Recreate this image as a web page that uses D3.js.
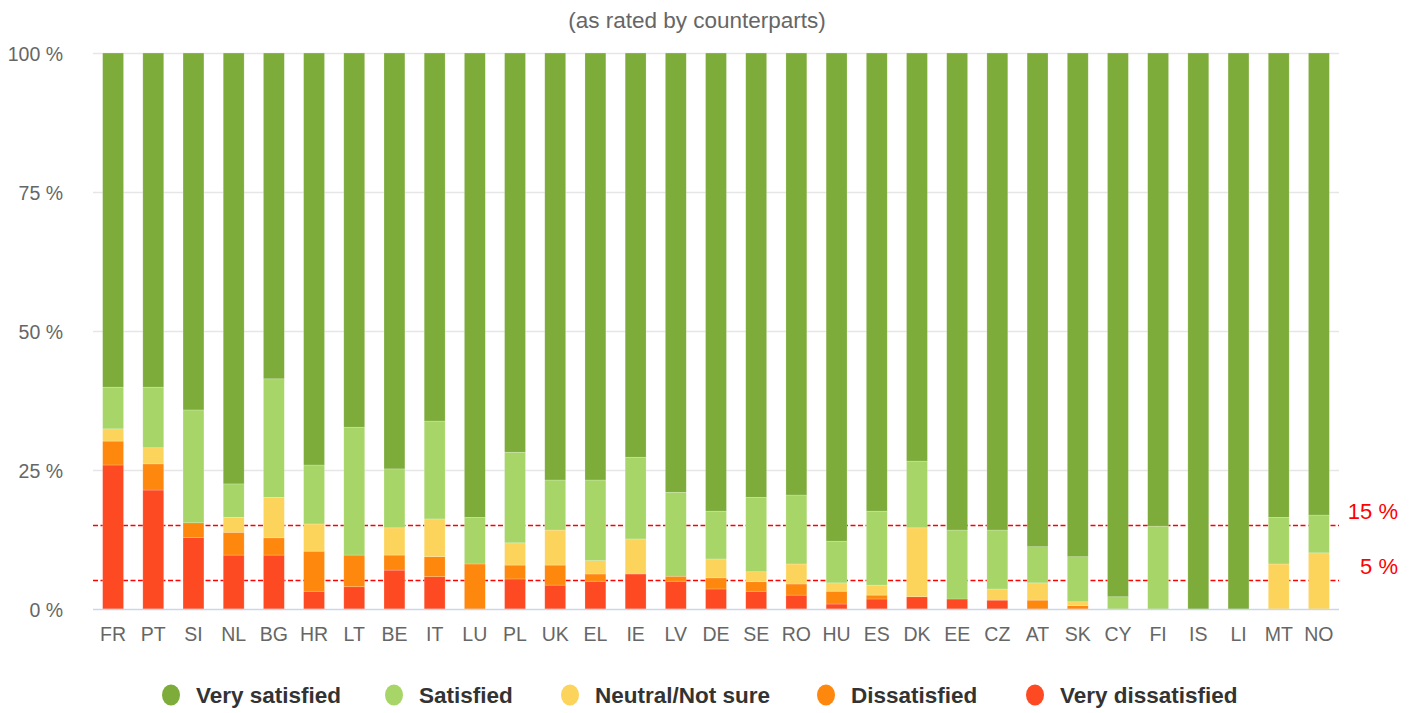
<!DOCTYPE html>
<html>
<head>
<meta charset="utf-8">
<script src="https://cdn.jsdelivr.net/npm/d3@7"></script>
<style>
  body { margin: 0; background: #fff; }
  text { font-family: "Liberation Sans", Arial, sans-serif; }
</style>
</head>
<body>
<div id="chart"></div>
<script>
// countries, in the order shown
var categories = ["FR","PT","SI","NL","BG","HR","LT","BE","IT","LU","PL","UK","EL","IE","LV","DE","SE","RO","HU","ES","DK","EE","CZ","AT","SK","CY","FI","IS","LI","MT","NO"];

// shares in %
var veryDissatisfied = [25.9,21.4,12.9,9.7,9.7,3.2,4.0,7.0,5.8,0,5.4,4.3,5.0,6.3,5.0,3.6,3.2,2.5,0.9,1.8,2.2,1.8,1.6,0,0,0,0,0,0,0,0];
var dissatisfied     = [4.3,4.7,2.6,4.1,3.1,7.2,5.7,2.7,3.6,8.1,2.5,3.6,1.3,0,0.9,2.0,1.7,2.0,2.3,0.7,0,0,0,1.6,0.6,0,0,0,0,0,0];
var neutral          = [2.2,2.9,0,2.7,7.3,4.9,0,4.9,6.8,0,4.0,6.3,2.4,6.3,0,3.4,1.8,3.6,1.5,1.8,12.4,0,2.0,3.1,0.7,0,0,0,0,8.1,10.1];
var satisfied        = [7.5,10.9,20.3,6.0,21.3,10.6,23.0,10.6,17.6,8.4,16.3,9.0,14.5,14.7,15.1,8.6,13.4,12.4,7.5,13.3,12.0,12.4,10.6,6.5,8.1,2.2,14.9,0,0,8.4,6.8];
var verySatisfied    = [60.1,60.1,64.2,77.5,58.6,74.1,67.3,74.8,66.2,83.5,71.8,76.8,76.8,72.7,79.0,82.4,79.9,79.5,87.8,82.4,73.4,85.8,85.8,88.8,90.6,97.8,85.1,100,100,83.5,83.1];

var yTicks = [0, 25, 50, 75, 100];
var refLines = [15, 5];

var series = [
  {key: "vd", name: "Very dissatisfied", color: "#fe4a23", values: veryDissatisfied},
  {key: "d",  name: "Dissatisfied",      color: "#fe870e", values: dissatisfied},
  {key: "n",  name: "Neutral/Not sure",  color: "#fcd45c", values: neutral},
  {key: "s",  name: "Satisfied",         color: "#a7d567", values: satisfied},
  {key: "vs", name: "Very satisfied",    color: "#7dac3a", values: verySatisfied}
];

var w = 1418, h = 713;
var plotLeft = 93, plotRight = 1339, plotTop = 53, plotBottom = 609;

var svg = d3.select("#chart").append("svg").attr("width", w).attr("height", h);

var x = d3.scaleBand().domain(categories).range([plotLeft, plotRight]).paddingInner(0.48).paddingOuter(0.24);
var y = d3.scaleLinear().domain([0, 100]).range([plotBottom, plotTop]);

// title
svg.append("text").attr("x", 697).attr("y", 28).attr("text-anchor", "middle")
  .attr("fill", "#666").style("font-size", "22.5px").text("(as rated by counterparts)");

// grid
svg.append("g").selectAll("line").data(yTicks.filter(function(d){ return d > 0; })).enter().append("line")
  .attr("x1", plotLeft).attr("x2", plotRight).attr("y1", function(d){ return y(d) + 0.5; }).attr("y2", function(d){ return y(d) + 0.5; })
  .attr("stroke", "#e6e6e6").attr("stroke-width", 1.5);

// y axis
var yAxis = svg.append("g").attr("transform", "translate(" + (plotLeft - 30) + ",0)")
  .call(d3.axisLeft(y).tickValues(yTicks).tickSize(0).tickPadding(0).tickFormat(function(d){ return d + " %"; }));
yAxis.select(".domain").remove();
yAxis.selectAll("text").attr("fill", "#666").style("font-size", "19.5px").attr("dy", "0.38em").attr("font-family", null);

// reference lines (behind the bars)
svg.append("g").selectAll("line").data(refLines).enter().append("line")
  .attr("x1", plotLeft).attr("x2", plotRight)
  .attr("y1", function(d){ return Math.round(y(d)) - 0.5; }).attr("y2", function(d){ return Math.round(y(d)) - 0.5; })
  .attr("stroke", "#ff0000").attr("stroke-width", 1.5).attr("stroke-dasharray", "5,2.5");
svg.append("g").selectAll("text").data(refLines).enter().append("text")
  .attr("x", 1398).attr("y", function(d){ return Math.round(y(d)) - 7; }).attr("text-anchor", "end")
  .attr("fill", "#ff0000").style("font-size", "22px").text(function(d){ return d + " %"; });

// stacked bars
var rows = categories.map(function(c, i) {
  var r = {cat: c};
  series.forEach(function(s){ r[s.key] = s.values[i]; });
  return r;
});
var stack = d3.stack().keys(series.map(function(s){ return s.key; }))(rows);

svg.append("g").selectAll("g").data(stack).enter().append("g")
  .attr("fill", function(d, i){ return series[i].color; })
  .selectAll("rect").data(function(d){ return d; }).enter().append("rect")
  .attr("x", function(d){ return x(d.data.cat); })
  .attr("width", x.bandwidth())
  .attr("y", function(d){ return y(d[1]); })
  .attr("height", function(d){ return y(d[0]) - y(d[1]); })
  .attr("stroke", "#fff").attr("stroke-opacity", 0.35).attr("stroke-width", 0.6);

// baseline
svg.append("line").attr("x1", plotLeft).attr("x2", plotRight).attr("y1", plotBottom + 0.5).attr("y2", plotBottom + 0.5)
  .attr("stroke", "#ccd6eb").attr("stroke-width", 1.5);

// x axis
var xAxis = svg.append("g").attr("transform", "translate(0," + (plotBottom + 18) + ")")
  .call(d3.axisBottom(x).tickSize(0).tickPadding(0));
xAxis.select(".domain").remove();
xAxis.selectAll("text").attr("fill", "#666").style("font-size", "19.5px").attr("font-family", null);

// legend
var legendOrder = series.slice().reverse();
var legendX = [171, 394, 570, 826, 1035];
var lg = svg.append("g").selectAll("g").data(legendOrder).enter().append("g")
  .attr("transform", function(d, i){ return "translate(" + legendX[i] + ",695)"; });
lg.append("ellipse").attr("rx", 9).attr("ry", 10.5).attr("fill", function(d){ return d.color; });
lg.append("text").attr("x", 25).attr("dy", "0.36em").attr("fill", "#333")
  .style("font-size", "22.5px").style("font-weight", "bold").text(function(d){ return d.name; });
</script>
</body>
</html>
